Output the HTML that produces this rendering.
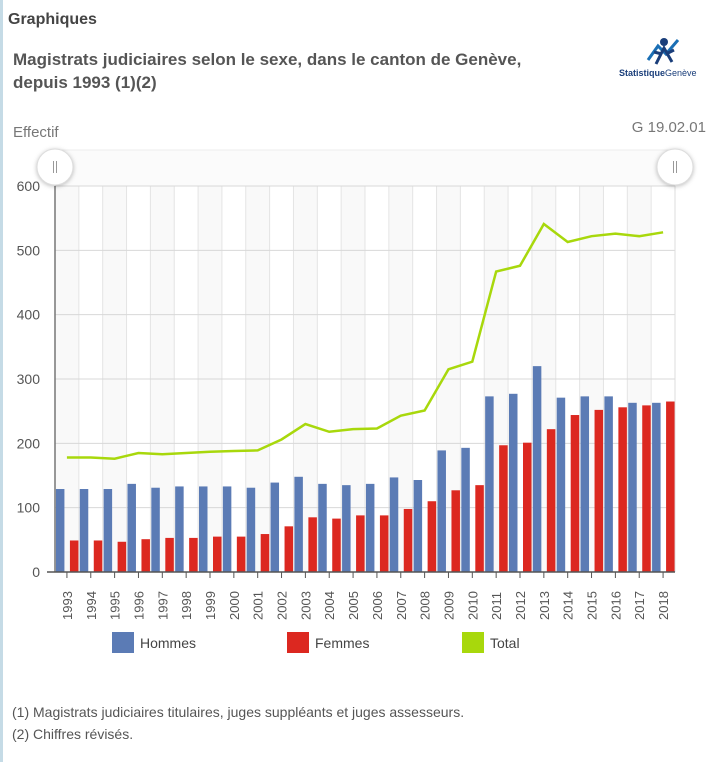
<!DOCTYPE html>
<html><head><meta charset="utf-8">
<style>
body{margin:0;width:714px;height:762px;background:#fff;font-family:"Liberation Sans",sans-serif;overflow:hidden;position:relative}
.t{position:absolute;color:#555}
</style></head><body>
<div style="position:absolute;left:0;top:0;width:3px;height:762px;background:#c5dbe6"></div>
<div class="t" style="left:8px;top:11px;font-size:16px;font-weight:bold;color:#444">Graphiques</div>
<div class="t" style="left:13px;top:48px;font-size:17px;font-weight:bold;line-height:23px;width:560px">Magistrats judiciaires selon le sexe, dans le canton de Genève, depuis 1993 (1)(2)</div>
<div style="position:absolute;left:618px;top:34px;width:84px;height:46px">
<svg width="84" height="46"><path d="M30 26 L40 12 L48 20 L60 6" stroke="#1a6fb5" stroke-width="3" fill="none"/><circle cx="46" cy="8" r="4" fill="#1a3e7a"/><path d="M38 30 L46 14 L54 28 M44 20 L36 18 M48 20 L56 16" stroke="#1a3e7a" stroke-width="3" fill="none"/><text x="1" y="42" font-size="9" font-family="Liberation Sans" fill="#1a3e7a" font-weight="bold">Statistique<tspan font-weight="normal">Genève</tspan></text></svg></div>
<div class="t" style="left:13px;top:124px;font-size:15px;color:#777">Effectif</div>
<div class="t" style="right:8px;top:119px;font-size:15px;color:#777">G 19.02.01</div>
<svg id="chart" width="714" height="762" style="position:absolute;left:0;top:0"></svg>
<div class="t" style="left:12px;top:704px;font-size:14px">(1) Magistrats judiciaires titulaires, juges suppléants et juges assesseurs.</div>
<div class="t" style="left:12px;top:726px;font-size:14px">(2) Chiffres révisés.</div>
<script>
const years=["1993","1994","1995","1996","1997","1998","1999","2000","2001","2002","2003","2004","2005","2006","2007","2008","2009","2010","2011","2012","2013","2014","2015","2016","2017","2018"];
const hommes=[129,129,129,137,131,133,133,133,131,139,148,137,135,137,147,143,189,193,273,277,320,271,273,273,263,263];
const femmes=[49,49,47,51,53,53,55,55,59,71,85,83,88,88,98,110,127,135,197,201,222,244,252,256,259,265];
const total=[178,178,176,185,183,185,187,188,189,206,230,218,222,223,243,251,315,327,467,476,541,513,522,526,522,528];
const yTicks=[0,100,200,300,400,500,600];
const svg=document.getElementById('chart');const NS='http://www.w3.org/2000/svg';
const L=55,R=675,T=186,B=572,YMAX=600;
const bw=(R-L)/years.length;
const x=i=>L+bw*(i+0.5);
const y=v=>B-(v/YMAX)*(B-T);
function mk(t,a,p){const e=document.createElementNS(NS,t);for(const k in a)e.setAttribute(k,a[k]);(p||svg).appendChild(e);return e;}
let e=mk('rect',{x:L,y:150,width:R-L,height:36,fill:'#fbfbfb',stroke:'#eee'});


years.forEach((yr,i)=>{if(i%2==0){const b=mk('rect',{x:L+bw*i,y:T,width:bw,height:B-T,fill:'#f9f9f9'});

}
const g=mk('line',{x1:L+bw*i,x2:L+bw*i,y1:T,y2:B,stroke:'#e4e4e4'});

});
yTicks.forEach(v=>{const g=mk('line',{x1:L,x2:R,y1:y(v),y2:y(v),stroke:'#d8d8d8'});


const t=mk('text',{x:40,y:y(v)+5,'text-anchor':'end','font-size':14,fill:'#555'});t.textContent=v;

});
mk('line',{x1:R,x2:R,y1:T,y2:B,stroke:'#ddd'});
years.forEach((yr,i)=>{
const b1=mk('rect',{x:x(i)-11,y:y(hommes[i]),width:8.5,height:B-y(hommes[i]),fill:'#5b7bb5'});


const b2=mk('rect',{x:x(i)+3,y:y(femmes[i]),width:8.5,height:B-y(femmes[i]),fill:'#dc2820'});


const tk=mk('line',{x1:x(i),x2:x(i),y1:B,y2:B+6,stroke:'#555'});


const t=mk('text',{transform:`translate(${x(i)+5},${B+48}) rotate(-90)`,'font-size':13,fill:'#555'});t.textContent=yr;

});
const ln=mk('polyline',{points:total.map((v,i)=>x(i)+','+y(v)).join(' '),fill:'none',stroke:'#a8d80c','stroke-width':2.5});


mk('line',{x1:L,x2:L,y1:T,y2:B,stroke:'#777','stroke-width':1.5});
mk('line',{x1:L-8,x2:R,y1:B,y2:B,stroke:'#555','stroke-width':1.5});
[L,R].forEach((hx,k)=>{const c=mk('circle',{cx:hx,cy:167,r:18,fill:'#fff',stroke:'#ddd',style:'filter:drop-shadow(0 1px 2px rgba(0,0,0,.25))'});


mk('line',{x1:hx-1.5,x2:hx-1.5,y1:161,y2:173,stroke:'#999'});mk('line',{x1:hx+1.5,x2:hx+1.5,y1:161,y2:173,stroke:'#999'});});
const leg=[["Hommes","#5b7bb5",112],["Femmes","#dc2820",287],["Total","#a8d80c",462]];
leg.forEach(l=>{const r=mk('rect',{x:l[2],y:632,width:22,height:21,fill:l[1]});


const t=mk('text',{x:l[2]+28,y:648,'font-size':14,fill:'#444'});t.textContent=l[0];

});
</script>
</body></html>
